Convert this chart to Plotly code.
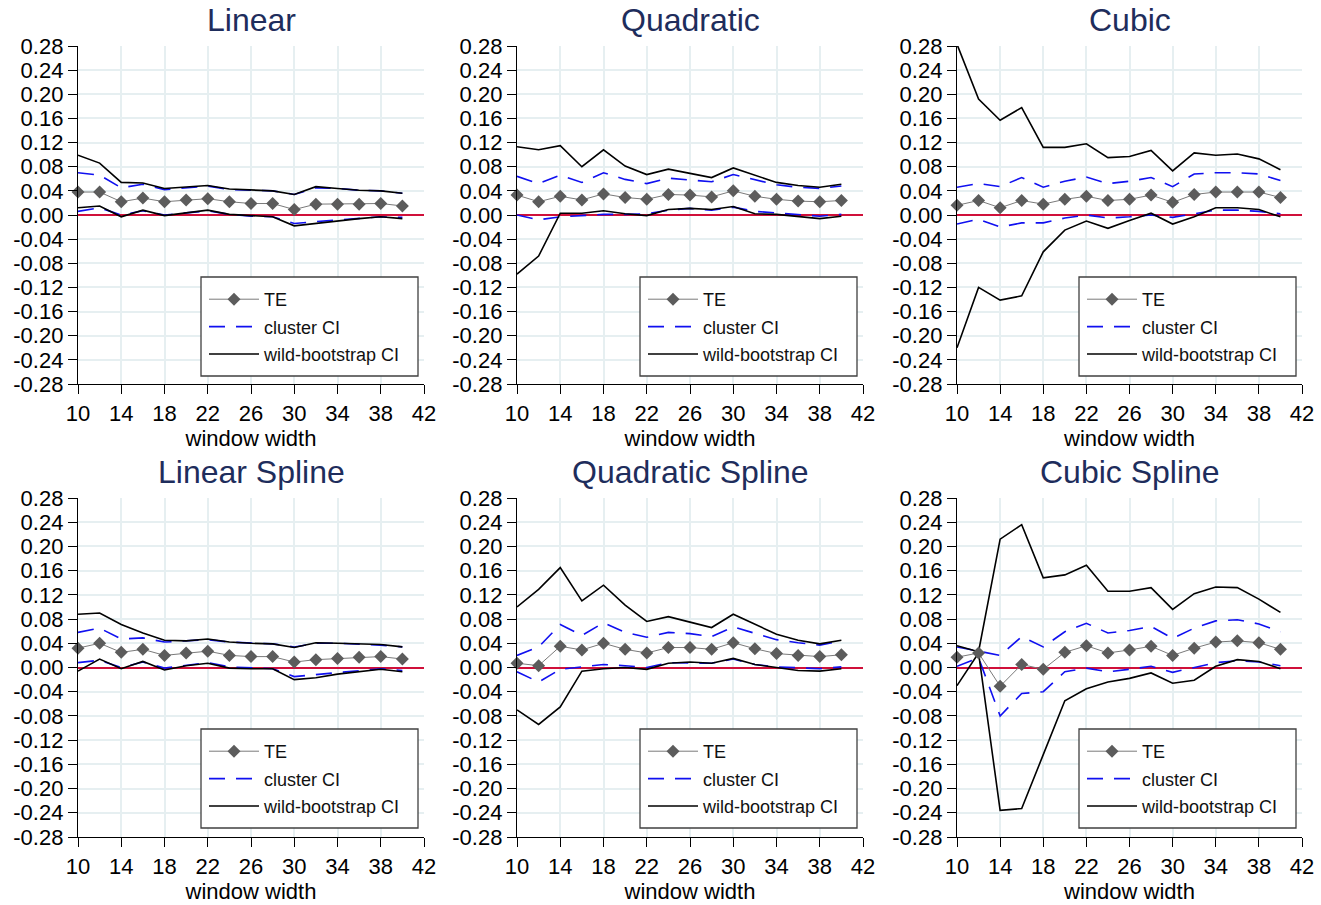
import plotly.graph_objects as go

W, H = 1321, 905

# ---------------- data ----------------
window_width = [10, 12, 14, 16, 18, 20, 22, 24, 26, 28, 30, 32, 34, 36, 38, 40]
x_ticks = [10, 14, 18, 22, 26, 30, 34, 38, 42]
y_ticks = [-0.28, -0.24, -0.20, -0.16, -0.12, -0.08, -0.04, 0.00,
           0.04, 0.08, 0.12, 0.16, 0.20, 0.24, 0.28]
panel_titles = ["Linear", "Quadratic", "Cubic",
                "Linear Spline", "Quadratic Spline", "Cubic Spline"]

# Linear
te_lin = [0.038, 0.038, 0.022, 0.028, 0.022, 0.025, 0.027, 0.022, 0.019, 0.019, 0.009, 0.018, 0.018, 0.018, 0.019, 0.015]
cl_lo_lin = [0.006, 0.012, 0.000, 0.007, 0.000, 0.004, 0.007, 0.001, -0.002, -0.003, -0.014, -0.011, -0.008, -0.005, -0.003, -0.004]
cl_hi_lin = [0.070, 0.066, 0.045, 0.051, 0.042, 0.045, 0.048, 0.042, 0.041, 0.040, 0.034, 0.045, 0.044, 0.041, 0.040, 0.036]
wb_lo_lin = [0.012, 0.015, -0.003, 0.008, -0.001, 0.004, 0.008, 0.001, -0.001, -0.003, -0.018, -0.014, -0.009, -0.006, -0.003, -0.006]
wb_hi_lin = [0.099, 0.086, 0.054, 0.053, 0.044, 0.047, 0.049, 0.043, 0.041, 0.040, 0.034, 0.047, 0.044, 0.041, 0.040, 0.036]

# Quadratic
te_quad = [0.033, 0.022, 0.031, 0.025, 0.035, 0.029, 0.026, 0.034, 0.033, 0.030, 0.040, 0.031, 0.026, 0.023, 0.022, 0.024]
cl_lo_quad = [0.000, -0.008, -0.003, -0.001, 0.001, 0.001, 0.002, 0.008, 0.011, 0.008, 0.013, 0.006, 0.003, 0.001, -0.002, 0.001]
cl_hi_quad = [0.064, 0.052, 0.066, 0.054, 0.070, 0.059, 0.052, 0.061, 0.058, 0.055, 0.067, 0.059, 0.050, 0.046, 0.044, 0.048]
wb_lo_quad = [-0.098, -0.068, 0.003, 0.003, 0.007, 0.002, -0.001, 0.009, 0.011, 0.009, 0.014, 0.002, 0.001, -0.003, -0.006, -0.002]
wb_hi_quad = [0.113, 0.108, 0.115, 0.080, 0.108, 0.081, 0.067, 0.076, 0.069, 0.062, 0.078, 0.066, 0.054, 0.049, 0.046, 0.051]

# Cubic
te_cub = [0.016, 0.024, 0.012, 0.024, 0.018, 0.026, 0.031, 0.024, 0.026, 0.033, 0.021, 0.034, 0.038, 0.038, 0.038, 0.029]
cl_lo_cub = [-0.015, -0.007, -0.020, -0.013, -0.013, -0.005, 0.000, -0.005, -0.003, 0.000, -0.004, 0.002, 0.008, 0.008, 0.006, 0.002]
cl_hi_cub = [0.046, 0.052, 0.047, 0.062, 0.046, 0.056, 0.063, 0.052, 0.056, 0.062, 0.047, 0.068, 0.070, 0.070, 0.068, 0.057]
wb_lo_cub = [-0.220, -0.120, -0.141, -0.134, -0.061, -0.025, -0.010, -0.022, -0.009, 0.003, -0.015, -0.003, 0.012, 0.012, 0.009, -0.003]
wb_hi_cub = [0.283, 0.192, 0.157, 0.178, 0.112, 0.112, 0.118, 0.095, 0.097, 0.107, 0.073, 0.103, 0.099, 0.101, 0.093, 0.075]

# Linear Spline
te_lsp = [0.032, 0.040, 0.025, 0.030, 0.020, 0.024, 0.027, 0.020, 0.018, 0.018, 0.009, 0.013, 0.015, 0.017, 0.018, 0.014]
cl_lo_lsp = [0.008, 0.012, 0.000, 0.009, -0.001, 0.004, 0.008, 0.001, -0.001, -0.002, -0.015, -0.012, -0.009, -0.006, -0.002, -0.005]
cl_hi_lsp = [0.058, 0.065, 0.047, 0.049, 0.042, 0.044, 0.046, 0.042, 0.040, 0.039, 0.034, 0.040, 0.040, 0.039, 0.037, 0.034]
wb_lo_lsp = [-0.006, 0.014, -0.002, 0.010, -0.004, 0.003, 0.007, -0.001, -0.002, -0.002, -0.020, -0.017, -0.011, -0.007, -0.003, -0.007]
wb_hi_lsp = [0.088, 0.090, 0.071, 0.057, 0.045, 0.044, 0.047, 0.042, 0.040, 0.039, 0.033, 0.041, 0.040, 0.039, 0.038, 0.034]

# Quadratic Spline
te_qsp = [0.007, 0.003, 0.035, 0.029, 0.040, 0.030, 0.024, 0.033, 0.033, 0.030, 0.041, 0.031, 0.023, 0.020, 0.018, 0.021]
cl_lo_qsp = [-0.007, -0.024, -0.003, 0.001, 0.005, 0.003, 0.000, 0.008, 0.008, 0.007, 0.014, 0.005, 0.001, 0.000, -0.002, 0.001]
cl_hi_qsp = [0.020, 0.034, 0.071, 0.053, 0.074, 0.058, 0.050, 0.058, 0.056, 0.051, 0.067, 0.056, 0.046, 0.041, 0.037, 0.044]
wb_lo_qsp = [-0.070, -0.094, -0.065, -0.006, -0.002, 0.000, -0.003, 0.007, 0.009, 0.007, 0.015, 0.005, 0.000, -0.005, -0.006, -0.002]
wb_hi_qsp = [0.100, 0.129, 0.165, 0.110, 0.136, 0.103, 0.076, 0.084, 0.075, 0.066, 0.088, 0.072, 0.055, 0.045, 0.039, 0.045]

# Cubic Spline
te_csp = [0.017, 0.024, -0.031, 0.005, -0.003, 0.025, 0.036, 0.024, 0.029, 0.035, 0.020, 0.032, 0.042, 0.044, 0.041, 0.030]
cl_lo_csp = [0.002, 0.016, -0.080, -0.043, -0.040, -0.007, -0.001, -0.007, -0.003, 0.002, -0.008, 0.000, 0.008, 0.011, 0.009, 0.003]
cl_hi_csp = [0.034, 0.027, 0.020, 0.051, 0.034, 0.059, 0.073, 0.057, 0.061, 0.068, 0.048, 0.065, 0.077, 0.079, 0.072, 0.059]
wb_lo_csp = [-0.030, 0.024, -0.236, -0.233, -0.144, -0.055, -0.035, -0.024, -0.018, -0.009, -0.026, -0.021, 0.002, 0.013, 0.010, -0.002]
wb_hi_csp = [0.036, 0.026, 0.212, 0.236, 0.148, 0.153, 0.169, 0.126, 0.126, 0.132, 0.096, 0.122, 0.133, 0.132, 0.113, 0.091]

panels = [
    (te_lin, cl_lo_lin, cl_hi_lin, wb_lo_lin, wb_hi_lin),
    (te_quad, cl_lo_quad, cl_hi_quad, wb_lo_quad, wb_hi_quad),
    (te_cub, cl_lo_cub, cl_hi_cub, wb_lo_cub, wb_hi_cub),
    (te_lsp, cl_lo_lsp, cl_hi_lsp, wb_lo_lsp, wb_hi_lsp),
    (te_qsp, cl_lo_qsp, cl_hi_qsp, wb_lo_qsp, wb_hi_qsp),
    (te_csp, cl_lo_csp, cl_hi_csp, wb_lo_csp, wb_hi_csp),
]

# ---------------- layout geometry (pixels) ----------------
col_px = [(78, 424), (517, 863), (957, 1302)]
row_px = [(46, 384), (498, 837)]
title_y_px = [20, 472]
legend_box_top = [277, 729]
legend_box_bottom = [376, 828]

FONT = "Liberation Sans, Arial, Helvetica, sans-serif"
TITLE_COLOR = "#1e2d5c"
GRID = "#e6eff1"
BLUE = "#1010f0"
GRAY_M = "#5c5c5c"
GRAY_L = "#7a7a7a"
RED = "#d0103a"
DASH = "16px,11px"

fig = go.Figure()
layout = dict(
    width=W, height=H, autosize=False,
    margin=dict(l=0, r=0, t=0, b=0, pad=0),
    paper_bgcolor="white", plot_bgcolor="white",
    font=dict(family=FONT, color="black"),
    annotations=[], shapes=[],
)

for i, (te, cl_lo, cl_hi, wb_lo, wb_hi) in enumerate(panels):
    r, c = divmod(i, 3)
    n = i + 1
    xa = "x" if n == 1 else f"x{n}"
    ya = "y" if n == 1 else f"y{n}"
    lg = "legend" if n == 1 else f"legend{n}"
    x0, x1 = col_px[c]
    y0, y1 = row_px[r]

    common = dict(x=window_width, xaxis=xa, yaxis=ya, legend=lg, mode="lines")
    # cluster CI
    fig.add_trace(go.Scatter(y=cl_hi, name="cluster CI", legendgroup=f"cl{n}", legendrank=2,
                             line=dict(color=BLUE, width=1.6, dash=DASH), **common))
    fig.add_trace(go.Scatter(y=cl_lo, name="cluster CI", legendgroup=f"cl{n}", showlegend=False,
                             line=dict(color=BLUE, width=1.6, dash=DASH), **common))
    # wild bootstrap CI
    fig.add_trace(go.Scatter(y=wb_hi, name="wild-bootstrap CI", legendgroup=f"wb{n}", legendrank=3,
                             line=dict(color="black", width=1.6), **common))
    fig.add_trace(go.Scatter(y=wb_lo, name="wild-bootstrap CI", legendgroup=f"wb{n}", showlegend=False,
                             line=dict(color="black", width=1.6), **common))
    # TE
    fig.add_trace(go.Scatter(x=window_width, y=te, xaxis=xa, yaxis=ya, legend=lg,
                             name="TE", legendgroup=f"te{n}", legendrank=1,
                             mode="lines+markers", cliponaxis=False,
                             line=dict(color=GRAY_L, width=1),
                             marker=dict(symbol="diamond", size=10, color=GRAY_M,
                                         line=dict(width=0))))

    axis_common = dict(showline=True, linecolor="black", linewidth=1.3,
                       ticks="outside", ticklen=9, tickwidth=1.3, tickcolor="black",
                       showgrid=True, gridcolor=GRID, gridwidth=1.5, automargin=False,
                       tickfont=dict(size=22, family=FONT, color="black"))
    layout["xaxis" if n == 1 else f"xaxis{n}"] = dict(
        domain=[x0 / W, x1 / W], anchor=ya, range=[10, 42], zeroline=False,
        tickmode="array", tickvals=x_ticks, ticktext=[str(v) for v in x_ticks],
        title=dict(text="window width", font=dict(size=22, family=FONT, color="black"), standoff=6),
        **axis_common)
    layout["yaxis" if n == 1 else f"yaxis{n}"] = dict(
        domain=[1 - y1 / H, 1 - y0 / H], anchor=xa, range=[-0.28, 0.28],
        zeroline=True, zerolinecolor=RED, zerolinewidth=1.8,
        tickmode="array", tickvals=y_ticks, ticktext=[f"{v:.2f}" for v in y_ticks],
        **axis_common)

    # legend frame (white box with dark border)
    bx0, bx1 = x1 - 223, x1 - 6
    by0, by1 = legend_box_top[r], legend_box_bottom[r]
    layout["shapes"].append(dict(
        type="rect", xref="paper", yref="paper",
        x0=bx0 / W, x1=bx1 / W, y0=1 - by1 / H, y1=1 - by0 / H,
        fillcolor="white", line=dict(color="#404040", width=1.3), layer="above"))

    layout[lg] = dict(
        x=(bx0 + 3) / W, y=1 - (by0 + 4) / H, xanchor="left", yanchor="top",
        bgcolor="rgba(0,0,0,0)", borderwidth=0,
        font=dict(size=18, family=FONT, color="#111111"),
        itemwidth=50, tracegroupgap=1, traceorder="grouped",
    )

    layout["annotations"].append(dict(
        text=panel_titles[i], xref="paper", yref="paper",
        x=(x0 + x1) / 2 / W, y=1 - title_y_px[r] / H, xanchor="center", yanchor="middle",
        showarrow=False, font=dict(size=32, family=FONT, color=TITLE_COLOR)))

fig.update_layout(**layout)
fig.write_html("out.html", config={"displayModeBar": False, "responsive": False},
               post_script="document.body.style.margin='0px';document.body.style.padding='0px';")
